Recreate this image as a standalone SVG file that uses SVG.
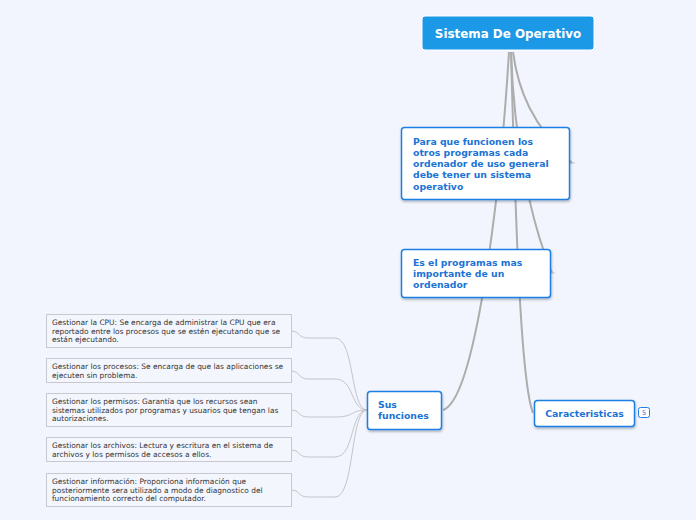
<svg xmlns="http://www.w3.org/2000/svg" width="696" height="520" viewBox="0 0 696 520">
<defs>
<filter id="sh" x="-10%" y="-10%" width="130%" height="140%">
<feDropShadow dx="0.5" dy="1.5" stdDeviation="1" flood-color="#000" flood-opacity="0.3"/>
</filter>
<style>
.main{fill:#fff;stroke:#1f7fe6;stroke-width:1.5;filter:url(#sh)}
.mt{font-family:"DejaVu Sans",sans-serif;font-weight:bold;font-size:9.3px;fill:#1b73d4}
.sub{fill:#f4f6fe;stroke:#c8c9cf;stroke-width:1}
.st{font-family:"DejaVu Sans",sans-serif;font-size:7.45px;fill:#333}
.c1{fill:none;stroke:#adadad;stroke-width:2}
.c2{fill:none;stroke:#c4c4c8;stroke-width:1}
</style>
</defs>
<rect width="696" height="520" fill="#f3f5fe"/>
<g id="connectors">
<path class="c1" d="M513,52 C518,90 532,125 572,163"/>
<path class="c1" d="M511,52 C514,140 530,220 552,273"/>
<path class="c1" d="M509,52 C500,200 475,400 443,410"/>
<path class="c1" d="M511,52 C515,200 520,380 533,413"/>
<line class="c2" x1="569" y1="163" x2="575" y2="163"/>
<line class="c2" x1="550" y1="273" x2="555" y2="273"/>
<path class="c2" d="M367,410 C350,410 355,338 335,338 L308,338 C298,338 300,331 291,331"/>
<path class="c2" d="M367,410 C350,410 355,379 335,379 L308,379 C298,379 300,371 291,371"/>
<path class="c2" d="M367,410 C350,410 355,417 335,417 L308,417 C298,417 300,410 291,410"/>
<path class="c2" d="M367,410 C350,410 355,457 335,457 L308,457 C298,457 300,450 291,450"/>
<path class="c2" d="M367,410 C350,410 355,497 335,497 L308,497 C298,497 300,490 291,490"/>
</g>
<g id="root">
<rect x="422" y="16" width="172" height="34" rx="3" fill="#1b98e6" stroke="#fff" stroke-width="1"/>
<text x="508" y="37.5" text-anchor="middle" font-family="DejaVu Sans, sans-serif" font-weight="bold" font-size="11.9" fill="#fff">Sistema De Operativo</text>
</g>
<g id="n1">
<rect class="main" x="401.5" y="127.5" width="168" height="72" rx="3"/>
<text class="mt"><tspan x="413" y="145">Para que funcionen los</tspan><tspan x="413" y="156">otros programas cada</tspan><tspan x="413" y="167.2">ordenador de uso general</tspan><tspan x="413" y="178.4">debe tener un sistema</tspan><tspan x="413" y="189.6">operativo</tspan></text>
</g>
<g id="n2">
<rect class="main" x="401.5" y="249.5" width="149" height="48" rx="3"/>
<text class="mt"><tspan x="413" y="266">Es el programas mas</tspan><tspan x="413" y="277">importante de un</tspan><tspan x="413" y="288">ordenador</tspan></text>
</g>
<g id="n3">
<rect class="main" x="367.5" y="391.5" width="74" height="38" rx="3"/>
<text class="mt"><tspan x="378" y="408">Sus</tspan><tspan x="378" y="419">funciones</tspan></text>
</g>
<g id="n4">
<rect class="main" x="534.5" y="400.5" width="100" height="26" rx="3"/>
<text class="mt" x="584.5" y="416.5" text-anchor="middle">Caracteristicas</text>
<rect x="638.5" y="407.5" width="11" height="10" rx="2" fill="#fff" stroke="#1f7fe6" stroke-width="1"/>
<text x="644" y="415" text-anchor="middle" font-family="DejaVu Sans, sans-serif" font-size="6.5" fill="#1b73d4">5</text>
</g>
<g id="s1">
<rect class="sub" x="46.5" y="314.5" width="245" height="33"/>
<text class="st"><tspan x="52" y="325">Gestionar la CPU: Se encarga de administrar la CPU que era</tspan><tspan x="52" y="333.5">reportado entre los procesos que se estén ejecutando que se</tspan><tspan x="52" y="342">están ejecutando.</tspan></text>
</g>
<g id="s2">
<rect class="sub" x="46.5" y="358.5" width="245" height="24"/>
<text class="st"><tspan x="52" y="369">Gestionar los procesos: Se encarga de que las aplicaciones se</tspan><tspan x="52" y="377.5">ejecuten sin problema.</tspan></text>
</g>
<g id="s3">
<rect class="sub" x="46.5" y="393.5" width="245" height="33"/>
<text class="st"><tspan x="52" y="404">Gestionar los permisos: Garantía que los recursos sean</tspan><tspan x="52" y="412.5">sistemas utilizados por programas y usuarios que tengan las</tspan><tspan x="52" y="421">autorizaciones.</tspan></text>
</g>
<g id="s4">
<rect class="sub" x="46.5" y="437.5" width="245" height="24"/>
<text class="st"><tspan x="52" y="448">Gestionar los archivos: Lectura y escritura en el sistema de</tspan><tspan x="52" y="456.5">archivos y los permisos de accesos a ellos.</tspan></text>
</g>
<g id="s5">
<rect class="sub" x="46.5" y="473.5" width="245" height="33"/>
<text class="st"><tspan x="52" y="484">Gestionar información: Proporciona información que</tspan><tspan x="52" y="492.5">posteriormente sera utilizado a modo de diagnostico del</tspan><tspan x="52" y="501">funcionamiento correcto del computador.</tspan></text>
</g>
</svg>
